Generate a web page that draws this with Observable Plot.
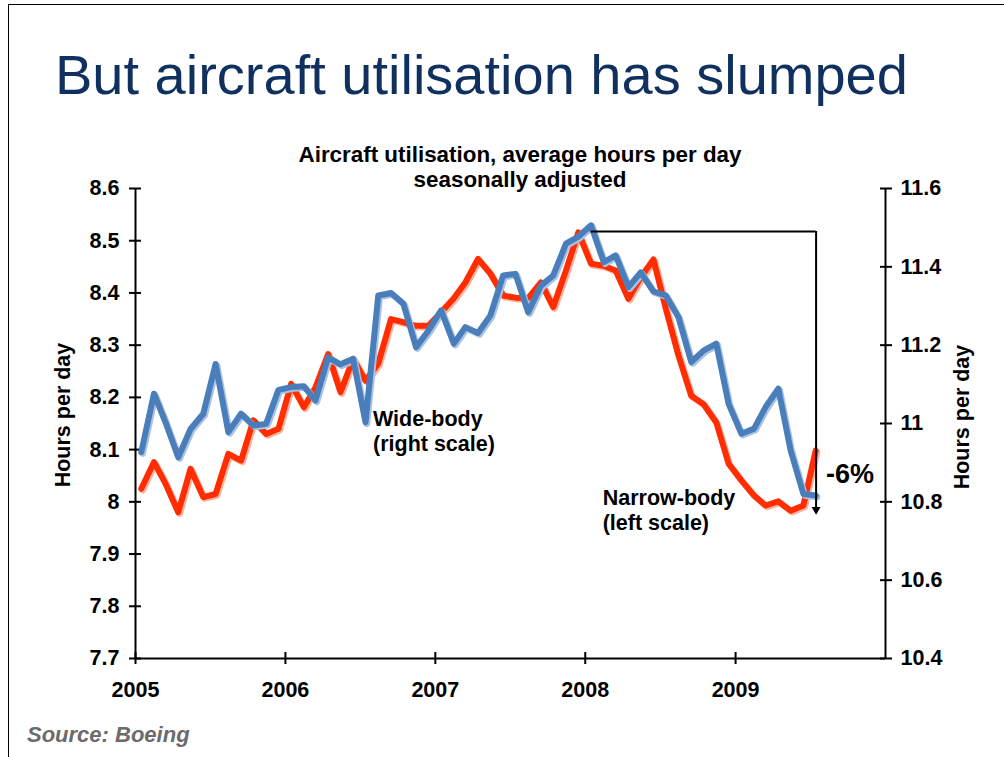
<!DOCTYPE html>
<html><head><meta charset="utf-8">
<script src="https://cdn.jsdelivr.net/npm/d3@7"></script>
<script src="https://cdn.jsdelivr.net/npm/@observablehq/plot@0.6"></script>
<style>
body{margin:0;background:#fff;font-family:"Liberation Sans",Arial,sans-serif;}
#wrap{position:relative;width:1004px;height:757px;overflow:hidden;background:#fff;}
#chart{position:absolute;left:0;top:0;}
.t{position:absolute;white-space:nowrap;line-height:1;color:#000;}
#border{position:absolute;left:8px;top:4px;width:1100px;height:900px;border-left:1.5px solid #000;border-top:1.5px solid #000;pointer-events:none;}
#title{left:55px;top:46.6px;font-size:56px;color:#10305f;}
#sub{left:220px;width:600px;top:141.7px;font-size:22.4px;line-height:25px;text-align:center;font-weight:bold;}
#source{left:27px;top:724.4px;font-size:22px;font-weight:bold;font-style:italic;color:#6b6b6b;}
.ann{font-size:21.5px;line-height:25px;font-weight:bold;}
#wide{left:373px;top:406.7px;}
#narrow{left:602.7px;top:485.7px;}
#pct{left:826px;top:461px;font-size:27px;font-weight:bold;}
.ylab{font-size:21.5px;font-weight:bold;transform:translate(-50%,-50%) rotate(-90deg);}
#ylabL{left:64px;top:415px;}
#ylabR{left:962.5px;top:417px;}
</style></head><body>
<div id="wrap">
  <div id="chart"></div>
  <div class="t" id="title">But aircraft utilisation has slumped</div>
  <div class="t" id="sub">Aircraft utilisation, average hours per day<br>seasonally adjusted</div>
  <div class="t ann" id="wide">Wide-body<br>(right scale)</div>
  <div class="t ann" id="narrow">Narrow-body<br>(left scale)</div>
  <div class="t" id="pct">-6%</div>
  <div class="t ylab" id="ylabL">Hours per day</div>
  <div class="t ylab" id="ylabR">Hours per day</div>
  <div class="t" id="source">Source: Boeing</div>
  <div id="border"></div>
</div>
<script>
// ---- data ----
const months = [
  "2005-01","2005-02","2005-03","2005-04","2005-05","2005-06","2005-07","2005-08","2005-09","2005-10","2005-11","2005-12",
  "2006-01","2006-02","2006-03","2006-04","2006-05","2006-06","2006-07","2006-08","2006-09","2006-10","2006-11","2006-12",
  "2007-01","2007-02","2007-03","2007-04","2007-05","2007-06","2007-07","2007-08","2007-09","2007-10","2007-11","2007-12",
  "2008-01","2008-02","2008-03","2008-04","2008-05","2008-06","2008-07","2008-08","2008-09","2008-10","2008-11","2008-12",
  "2009-01","2009-02","2009-03","2009-04","2009-05","2009-06","2009-07"
];
// Narrow-body, left scale (hours per day)
const narrowBody = [
  8.025, 8.076, 8.035, 7.980, 8.063, 8.009, 8.015, 8.092, 8.079, 8.156, 8.130, 8.140,
  8.226, 8.181, 8.219, 8.283, 8.210, 8.274, 8.232, 8.265, 8.350, 8.344, 8.337, 8.337,
  8.363, 8.390, 8.420, 8.465, 8.437, 8.395, 8.391, 8.390, 8.420, 8.373, 8.443, 8.516,
  8.456, 8.452, 8.443, 8.389, 8.430, 8.464, 8.370, 8.280, 8.203, 8.187, 8.152, 8.073,
  8.041, 8.012, 7.993, 8.001, 7.983, 7.993, 8.098
];
// Wide-body, right scale (hours per day)
const wideBody = [
  10.927, 11.076, 11.003, 10.914, 10.986, 11.025, 11.152, 10.978, 11.025, 10.995, 10.999, 11.086,
  11.093, 11.095, 11.059, 11.169, 11.151, 11.165, 11.003, 11.327, 11.333, 11.306, 11.195, 11.237,
  11.289, 11.204, 11.246, 11.231, 11.276, 11.378, 11.382, 11.284, 11.352, 11.378, 11.459, 11.477,
  11.506, 11.412, 11.429, 11.348, 11.386, 11.337, 11.327, 11.271, 11.157, 11.186, 11.204, 11.050,
  10.974, 10.987, 11.042, 11.089, 10.931, 10.820, 10.816
];
const yearTicks = ["2005","2006","2007","2008","2009"];
const xDomain = ["2005-01-01","2010-01-01"];
const leftTicks = [7.7, 7.8, 7.9, 8, 8.1, 8.2, 8.3, 8.4, 8.5, 8.6];
const rightTicks = [10.4, 10.6, 10.8, 11, 11.2, 11.4, 11.6];
const leftDomain = [7.7, 8.6];
const rightDomain = [10.4, 11.6];
// -6% bracket annotation (dates, right-scale values)
const bracketX = ["2008-01-15", "2009-07-16"];
const bracketY = [11.49, 10.78];

// ---- scale mapping: right scale expressed in left-scale units ----
const [L0, L1] = leftDomain, [R0, R1] = rightDomain;
const toLeft = r => L0 + (r - R0) * (L1 - L0) / (R1 - R0);
const toRight = l => R0 + (l - L0) * (R1 - R0) / (L1 - L0);

const data = months.map((m, i) => ({
  date: new Date(m + "-15"),
  narrow: narrowBody[i],
  wide: toLeft(wideBody[i])
}));
const bracket = [{
  x1: new Date(bracketX[0]), x2: new Date(bracketX[1]),
  top: toLeft(bracketY[0]), bottom: toLeft(bracketY[1])
}];
const xd = xDomain.map(d => new Date(d));
const yearDates = yearTicks.map(y => new Date(y + "-01-01"));

const chart = Plot.plot({
  width: 1004, height: 757,
  marginLeft: 135, marginRight: 119, marginTop: 188, marginBottom: 99,
  style: {fontFamily: '"Liberation Sans", Arial, sans-serif', fontSize: "21.5px", fontWeight: "bold", color: "#000", background: "transparent", overflow: "visible"},
  x: {type: "utc", domain: xd},
  y: {domain: leftDomain},
  marks: [
    // axis lines
    Plot.ruleX([xd[0]], {y1: L0, y2: L1, strokeWidth: 2}),
    Plot.ruleX([xd[1]], {y1: L0, y2: L1, strokeWidth: 2}),
    Plot.ruleY([L0], {x1: xd[0], x2: xd[1], strokeWidth: 2}),
    // axes with crossing ticks
    Plot.axisX(yearDates, {anchor: "bottom", tickSize: 12, dy: -6, tickPadding: 17, tickFormat: d3.utcFormat("%Y"), strokeWidth: 2, label: null}),
    Plot.axisY(leftTicks, {anchor: "left", tickSize: 12, dx: 6, tickPadding: 10, tickFormat: d => String(d), strokeWidth: 2, label: null}),
    Plot.axisY(rightTicks.map(toLeft), {anchor: "right", tickSize: 12, dx: -6, tickPadding: 9, tickFormat: d => String(Math.round(toRight(d) * 10) / 10), strokeWidth: 2, label: null}),
    // narrow-body (shadow + line)
    Plot.lineY(data, {x: "date", y: "narrow", stroke: "#ffb3a0", strokeWidth: 6.5, dx: 1.5, dy: 1.5}),
    Plot.lineY(data, {x: "date", y: "narrow", stroke: "#ff2d00", strokeWidth: 6}),
    // wide-body (shadow + line)
    Plot.lineY(data, {x: "date", y: "wide", stroke: "#a9c3e6", strokeWidth: 6.5, dx: 1.5, dy: 1.5}),
    Plot.lineY(data, {x: "date", y: "wide", stroke: "#4a7ebb", strokeWidth: 6}),
    // bracket annotation
    Plot.ruleY(bracket, {y: "top", x1: "x1", x2: "x2", strokeWidth: 2}),
    Plot.ruleX(bracket, {x: "x2", y1: "top", y2: "bottom", strokeWidth: 2}),
    Plot.dot(bracket, {x: "x2", y: "bottom", symbol: "triangle", rotate: 180, r: 3.3, fill: "#000", stroke: null})
  ]
});
document.getElementById("chart").appendChild(chart);
</script>
</body></html>
